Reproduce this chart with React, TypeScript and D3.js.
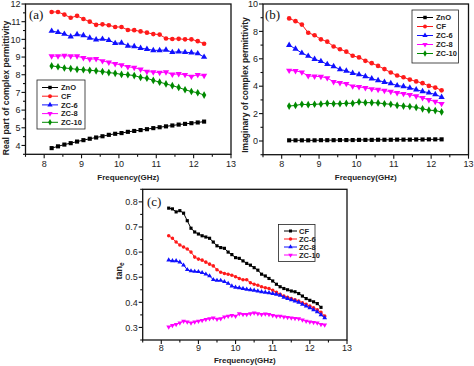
import React from 'react';
import * as d3 from 'd3';

// ---------- data ----------
const freqAB = [8.2, 8.37, 8.54, 8.71, 8.88, 9.05, 9.22, 9.39, 9.56, 9.73, 9.9, 10.07, 10.24, 10.41, 10.58, 10.75, 10.92, 11.09, 11.26, 11.43, 11.6, 11.77, 11.94, 12.11, 12.28];
const freqC = [8.2, 8.3, 8.4, 8.5, 8.6, 8.7, 8.8, 8.9, 9.0, 9.1, 9.2, 9.3, 9.4, 9.5, 9.6, 9.7, 9.8, 9.9, 10.0, 10.1, 10.2, 10.3, 10.4, 10.5, 10.6, 10.7, 10.8, 10.9, 11.0, 11.1, 11.2, 11.3, 11.4, 11.5, 11.6, 11.7, 11.8, 11.9, 12.0, 12.1, 12.2, 12.3, 12.4];

const realZnO = [3.85, 3.95, 4.05, 4.13, 4.22, 4.3, 4.38, 4.45, 4.52, 4.6, 4.66, 4.7, 4.77, 4.82, 4.87, 4.92, 4.98, 5.03, 5.08, 5.13, 5.18, 5.22, 5.26, 5.3, 5.35];
const realCF = [11.55, 11.55, 11.4, 11.22, 11.33, 11.15, 11.0, 10.82, 10.85, 10.8, 10.7, 10.7, 10.53, 10.52, 10.45, 10.38, 10.3, 10.27, 10.05, 10.02, 10.03, 10.0, 10.0, 9.9, 9.75];
const realZC6 = [10.47, 10.4, 10.3, 10.15, 10.28, 10.22, 10.08, 9.98, 10.02, 9.95, 9.78, 9.8, 9.63, 9.6, 9.5, 9.45, 9.38, 9.38, 9.4, 9.27, 9.3, 9.27, 9.25, 9.2, 9.0];
const realZC8 = [9.05, 9.05, 9.08, 9.05, 9.05, 8.95, 8.88, 8.9, 8.78, 8.7, 8.62, 8.55, 8.45, 8.4, 8.3, 8.18, 8.15, 8.12, 8.15, 8.02, 8.05, 8.0, 7.9, 8.0, 7.95];
const realZC10 = [8.5, 8.45, 8.38, 8.35, 8.3, 8.28, 8.25, 8.22, 8.18, 8.12, 8.08, 8.02, 8.0, 7.95, 7.85, 7.8, 7.68, 7.58, 7.48, 7.38, 7.28, 7.15, 7.05, 6.98, 6.85];

const imagZnO = [0.05, 0.05, 0.05, 0.05, 0.05, 0.06, 0.06, 0.06, 0.07, 0.07, 0.07, 0.08, 0.08, 0.08, 0.09, 0.09, 0.09, 0.1, 0.1, 0.1, 0.11, 0.11, 0.12, 0.12, 0.12];
const imagCF = [8.95, 8.75, 8.5, 7.9, 7.72, 7.42, 7.25, 6.9, 6.7, 6.52, 6.22, 6.1, 5.85, 5.68, 5.48, 5.25, 5.0, 4.78, 4.65, 4.48, 4.35, 4.22, 4.02, 3.9, 3.7];
const imagZC6 = [7.0, 6.72, 6.42, 6.2, 5.97, 5.82, 5.6, 5.45, 5.22, 5.12, 4.95, 4.85, 4.72, 4.55, 4.42, 4.3, 4.2, 4.05, 3.98, 3.88, 3.75, 3.62, 3.52, 3.4, 3.2];
const imagZC8 = [5.15, 5.12, 5.02, 4.75, 4.72, 4.7, 4.6, 4.32, 4.25, 4.18, 4.0, 3.95, 3.88, 3.8, 3.75, 3.68, 3.6, 3.52, 3.45, 3.38, 3.28, 3.15, 3.0, 2.88, 2.72];
const imagZC10 = [2.55, 2.6, 2.68, 2.65, 2.68, 2.7, 2.75, 2.72, 2.72, 2.75, 2.75, 2.85, 2.8, 2.8, 2.78, 2.72, 2.68, 2.6, 2.55, 2.52, 2.45, 2.35, 2.25, 2.22, 2.12];

const tanCF = [0.775, 0.772, 0.76, 0.765, 0.755, 0.725, 0.695, 0.68, 0.672, 0.665, 0.66, 0.655, 0.64, 0.625, 0.618, 0.615, 0.6, 0.59, 0.578, 0.575, 0.565, 0.555, 0.548, 0.538, 0.528, 0.512, 0.505, 0.495, 0.485, 0.472, 0.462, 0.455, 0.45, 0.445, 0.442, 0.435, 0.425, 0.415, 0.408, 0.402, 0.395, 0.38];
const tanZC6 = [0.665, 0.655, 0.64, 0.628, 0.62, 0.612, 0.6, 0.58, 0.572, 0.568, 0.56, 0.552, 0.545, 0.53, 0.52, 0.515, 0.512, 0.508, 0.502, 0.495, 0.49, 0.49, 0.478, 0.472, 0.468, 0.462, 0.458, 0.455, 0.448, 0.44, 0.432, 0.425, 0.42, 0.415, 0.41, 0.405, 0.398, 0.392, 0.385, 0.378, 0.37, 0.36, 0.345];
const tanZC8 = [0.568, 0.565, 0.565, 0.56, 0.548, 0.53, 0.525, 0.523, 0.522, 0.518, 0.512, 0.505, 0.49, 0.487, 0.487, 0.482, 0.475, 0.465, 0.46, 0.458, 0.455, 0.452, 0.45, 0.448, 0.445, 0.442, 0.44, 0.438, 0.435, 0.432, 0.428, 0.42, 0.415, 0.41, 0.405, 0.4, 0.392, 0.385, 0.378, 0.37, 0.362, 0.35, 0.338];
const tanZC10 = [0.302, 0.308, 0.312, 0.318, 0.325, 0.322, 0.318, 0.322, 0.325, 0.328, 0.332, 0.335, 0.338, 0.333, 0.335, 0.342, 0.345, 0.348, 0.345, 0.355, 0.352, 0.352, 0.355, 0.358, 0.355, 0.352, 0.354, 0.352, 0.348, 0.345, 0.345, 0.342, 0.34, 0.338, 0.336, 0.335, 0.33, 0.325, 0.322, 0.32, 0.318, 0.312, 0.31];

const xTicks = [8, 9, 10, 11, 12, 13];
const xMinor = [7.5, 8.5, 9.5, 10.5, 11.5, 12.5];
const realTicks = [4, 5, 6, 7, 8, 9, 10, 11, 12];
const realMinor = [3.5, 4.5, 5.5, 6.5, 7.5, 8.5, 9.5, 10.5, 11.5];
const imagTicks = [0, 2, 4, 6, 8, 10];
const imagMinor = [-1, 1, 3, 5, 7, 9];
const tanTicks = [0.3, 0.4, 0.5, 0.6, 0.7, 0.8];
const tanMinor = [0.25, 0.35, 0.45, 0.55, 0.65, 0.75, 0.85];

const seriesNamesAB = ['ZnO', 'CF', 'ZC-6', 'ZC-8', 'ZC-10'];
const seriesNamesC = ['CF', 'ZC-6', 'ZC-8', 'ZC-10'];

// ---------- styling ----------
const BLACK = '#000000';
const RED = '#ff1a1a';
const BLUE = '#1010ff';
const MAGENTA = '#ff00ff';
const GREEN = '#008a00';
const FONT = '"Liberation Sans", Arial, sans-serif';

type Sym = 'square' | 'circle' | 'tri' | 'tridown' | 'diamond';
type Series = { name: string; color: string; sym: Sym; x: number[]; y: number[] };

function symbolPath(sym: Sym, size: number) {
  const t = sym === 'square' ? d3.symbolSquare : sym === 'circle' ? d3.symbolCircle : sym === 'diamond' ? d3.symbolDiamond : d3.symbolTriangle;
  return d3.symbol().type(t).size(size)() as string;
}

type PanelProps = {
  x0: number; x1: number; y0: number; y1: number;
  yDomain: [number, number];
  yTicks: number[]; yMinor: number[]; yFmt: (v: number) => string;
  label: string; labelX: number; labelY: number;
  ylabel: React.ReactNode; ylabelX: number; ylabelY: number; ylabelSize: number;
  xTitleY: number; xTickDy: number;
  series: Series[]; markSize: number;
  legend: { x: number; y: number; w: number; h: number; first: number; step: number; lx0: number; lx1: number; tx: number; markSize: number };
};

function Panel(p: PanelProps) {
  const xs = d3.scaleLinear().domain([7.5, 13]).range([p.x0, p.x1]);
  const ys = d3.scaleLinear().domain(p.yDomain).range([p.y1, p.y0]);
  const line = d3.line<[number, number]>().x(d => xs(d[0])).y(d => ys(d[1]));
  const L = p.legend;
  return (
    <g>
      {p.series.map(s => {
        const pts = s.y.map((v, i) => [s.x[i], v] as [number, number]);
        const path = symbolPath(s.sym, p.markSize);
        return (
          <g key={s.name}>
            <path d={line(pts) as string} fill="none" stroke={s.color} strokeWidth={1} />
            {pts.map((d, i) => (
              <path key={i} d={path} fill={s.color}
                transform={`translate(${xs(d[0])},${ys(d[1])})${s.sym === 'tridown' ? ' rotate(180)' : ''}`} />
            ))}
          </g>
        );
      })}
      <rect x={p.x0} y={p.y0} width={p.x1 - p.x0} height={p.y1 - p.y0} fill="none" stroke="#111" strokeWidth={1.3} />
      {xTicks.map(t => (
        <g key={'xt' + t}>
          <line x1={xs(t)} x2={xs(t)} y1={p.y1} y2={p.y1 + 4} stroke="#111" strokeWidth={1.1} />
          <text x={xs(t)} y={p.y1 + p.xTickDy} fontSize={9} textAnchor="middle" fontFamily={FONT} fill="#222">{t}</text>
        </g>
      ))}
      {xMinor.map(t => (
        <line key={'xm' + t} x1={xs(t)} x2={xs(t)} y1={p.y1} y2={p.y1 + 2.5} stroke="#111" strokeWidth={1.1} />
      ))}
      {p.yTicks.map(t => (
        <g key={'yt' + t}>
          <line x1={p.x0 - 4} x2={p.x0} y1={ys(t)} y2={ys(t)} stroke="#111" strokeWidth={1.1} />
          <text x={p.x0 - 5} y={ys(t) + 3.2} fontSize={9} textAnchor="end" fontFamily={FONT} fill="#222">{p.yFmt(t)}</text>
        </g>
      ))}
      {p.yMinor.map(t => (
        <line key={'ym' + t} x1={p.x0 - 2.5} x2={p.x0} y1={ys(t)} y2={ys(t)} stroke="#111" strokeWidth={1.1} />
      ))}
      <text x={p.labelX} y={p.labelY} fontSize={13} fontFamily='"Liberation Serif", "Times New Roman", serif' fill="#111">{p.label}</text>
      <text transform={`translate(${p.ylabelX},${p.ylabelY}) rotate(-90)`} fontSize={p.ylabelSize} fontWeight="bold" textAnchor="middle" fontFamily={FONT} fill="#222">{p.ylabel}</text>
      <text x={(p.x0 + p.x1) / 2} y={p.xTitleY} fontSize={8} fontWeight="bold" textAnchor="middle" fontFamily={FONT} fill="#222">Frequency(GHz)</text>
      <rect x={L.x} y={L.y} width={L.w} height={L.h} fill="white" stroke="#222" strokeWidth={0.8} />
      {p.series.map((s, i) => {
        const yy = L.first + i * L.step;
        return (
          <g key={'lg' + s.name}>
            <line x1={L.lx0} x2={L.lx1} y1={yy} y2={yy} stroke={s.color} strokeWidth={1} />
            <path d={symbolPath(s.sym, L.markSize)} fill={s.color}
              transform={`translate(${(L.lx0 + L.lx1) / 2},${yy})${s.sym === 'tridown' ? ' rotate(180)' : ''}`} />
            <text x={L.tx} y={yy + 2.8} fontSize={7.5} fontWeight="bold" fontFamily={FONT} fill="#222">{s.name}</text>
          </g>
        );
      })}
    </g>
  );
}

export default function App() {
  const colorsAB = [BLACK, RED, BLUE, MAGENTA, GREEN];
  const symsAB: Sym[] = ['square', 'circle', 'tri', 'tridown', 'diamond'];
  const realVals = [realZnO, realCF, realZC6, realZC8, realZC10];
  const imagVals = [imagZnO, imagCF, imagZC6, imagZC8, imagZC10];
  const seriesA: Series[] = seriesNamesAB.map((n, i) => ({ name: n, color: colorsAB[i], sym: symsAB[i], x: freqAB, y: realVals[i] }));
  const seriesB: Series[] = seriesNamesAB.map((n, i) => ({ name: n, color: colorsAB[i], sym: symsAB[i], x: freqAB, y: imagVals[i] }));
  const colorsC = [BLACK, RED, BLUE, MAGENTA];
  const symsC: Sym[] = ['square', 'circle', 'tri', 'tridown'];
  const tanVals = [tanCF, tanZC6, tanZC8, tanZC10];
  const seriesC: Series[] = seriesNamesC.map((n, i) => ({ name: n, color: colorsC[i], sym: symsC[i], x: freqC, y: tanVals[i] }));
  const fmtInt = (v: number) => String(v);
  const fmt1 = (v: number) => v.toFixed(1);

  return (
    <svg width={474} height={366} style={{ position: 'absolute', left: 0, top: 0, background: 'white' }}>
      <rect width={474} height={366} fill="white" />
      <Panel x0={25.5} x1={231} y0={4} y1={154.3} yDomain={[3.5, 12]} yTicks={realTicks} yMinor={realMinor} yFmt={fmtInt}
        label="(a)" labelX={29} labelY={19} ylabel="Real part of complex permittivity" ylabelX={9} ylabelY={88} ylabelSize={8.7}
        xTitleY={180} xTickDy={12.3} series={seriesA} markSize={17}
        legend={{ x: 37, y: 80, w: 48, h: 49, first: 87.5, step: 8.7, lx0: 42, lx1: 58, tx: 61, markSize: 12 }} />
      <Panel x0={263} x1={468.5} y0={4} y1={154.7} yDomain={[-1, 10]} yTicks={imagTicks} yMinor={imagMinor} yFmt={fmtInt}
        label="(b)" labelX={265} labelY={19} ylabel="Imaginary of complex permittivity" ylabelX={247.5} ylabelY={85} ylabelSize={8.5}
        xTitleY={180} xTickDy={12.3} series={seriesB} markSize={17}
        legend={{ x: 412, y: 10, w: 46.5, h: 53, first: 17.5, step: 9, lx0: 417, lx1: 433, tx: 436, markSize: 12 }} />
      <Panel x0={142.7} x1={347} y0={189.3} y1={340} yDomain={[0.25, 0.85]} yTicks={tanTicks} yMinor={tanMinor} yFmt={fmt1}
        label="(c)" labelX={147} labelY={206} ylabel={<>tan<tspan fontSize={6.5} dy={2}>e</tspan></>} ylabelX={122} ylabelY={271} ylabelSize={9}
        xTitleY={363} xTickDy={11} series={seriesC} markSize={10}
        legend={{ x: 278.5, y: 224.5, w: 36.5, h: 37, first: 231, step: 8, lx0: 284, lx1: 297, tx: 299, markSize: 9 }} />
    </svg>
  );
}
